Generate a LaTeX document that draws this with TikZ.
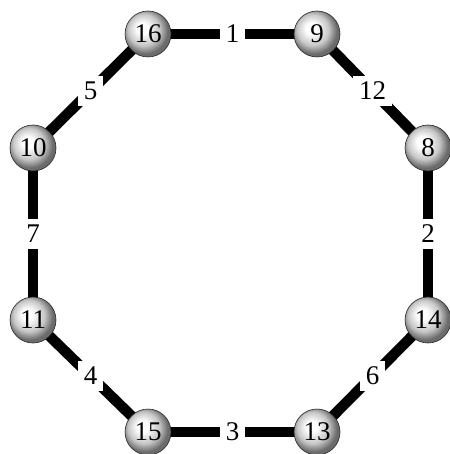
\documentclass[tikz,border=0pt]{standalone}
\usepackage{fontspec}
\setmainfont{Liberation Serif}
\usetikzlibrary{backgrounds}
\pgfdeclareradialshading{lightball}{\pgfqpoint{-7bp}{7bp}}{color(0bp)=(white); color(6bp)=(white); color(17bp)=(black!22); color(25bp)=(black!58); color(50bp)=(black!58)}
\begin{document}
\begin{tikzpicture}[x=1pt,y=-1pt,
  vert/.style={circle,minimum size=46pt,inner sep=0pt,draw=black!85,line width=0.6pt,shading=lightball,font=\fontsize{27}{31}\selectfont},
  edge/.style={line width=10.5pt,black},
  lab/.style={fill=white,font=\fontsize{27}{31}\selectfont,inner sep=6pt}]
\useasboundingbox (0,0) rectangle (449,454);
\node[vert] (n16) at (148,34) {16};
\node[vert] (n9) at (317,34) {9};
\node[vert] (n8) at (428,148) {8};
\node[vert] (n14) at (428,320) {14};
\node[vert] (n13) at (317,432) {13};
\node[vert] (n15) at (148,432) {15};
\node[vert] (n11) at (33,320) {11};
\node[vert] (n10) at (33,148) {10};
\begin{pgfonlayer}{background}
\draw[edge] (n16.center) -- node[lab] {1} (n9.center);
\draw[edge] (n9.center) -- node[lab] {12} (n8.center);
\draw[edge] (n8.center) -- node[lab] {2} (n14.center);
\draw[edge] (n14.center) -- node[lab] {6} (n13.center);
\draw[edge] (n13.center) -- node[lab] {3} (n15.center);
\draw[edge] (n15.center) -- node[lab] {4} (n11.center);
\draw[edge] (n11.center) -- node[lab] {7} (n10.center);
\draw[edge] (n10.center) -- node[lab] {5} (n16.center);
\end{pgfonlayer}
\end{tikzpicture}
\end{document}
